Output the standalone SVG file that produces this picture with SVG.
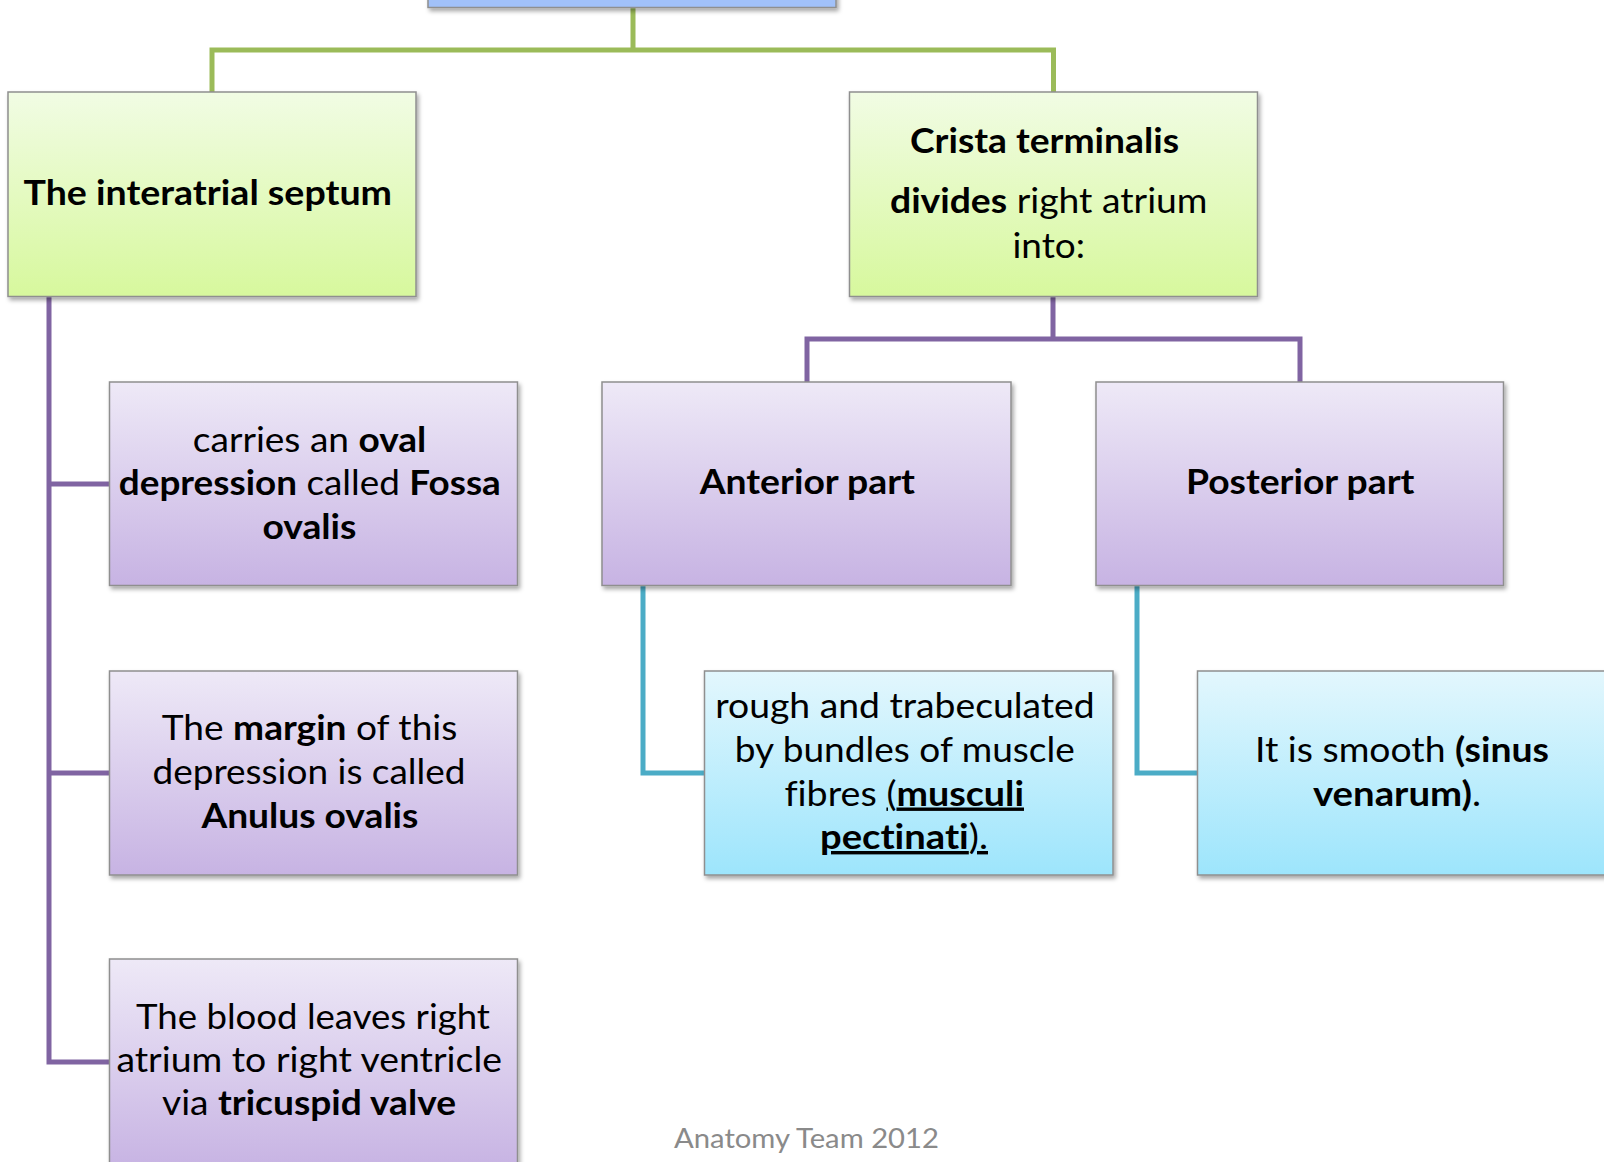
<svg xmlns="http://www.w3.org/2000/svg" width="1604" height="1162" viewBox="0 0 1604 1162">
<defs>
<linearGradient id="gGreen" x1="0" y1="0" x2="0" y2="1">
<stop offset="0" stop-color="#f1fce4"/><stop offset="1" stop-color="#d7f89d"/>
</linearGradient>
<linearGradient id="gPurple" x1="0" y1="0" x2="0" y2="1">
<stop offset="0" stop-color="#eee9f7"/><stop offset="1" stop-color="#c7b3e3"/>
</linearGradient>
<linearGradient id="gBlue" x1="0" y1="0" x2="0" y2="1">
<stop offset="0" stop-color="#e3f7fd"/><stop offset="1" stop-color="#9de5fc"/>
</linearGradient>
<filter id="sh" x="-5%" y="-5%" width="110%" height="115%">
<feDropShadow dx="2" dy="3" stdDeviation="2" flood-color="#000" flood-opacity="0.35"/>
</filter>
</defs>
<style>
.box{stroke:#8f8f8f;stroke-width:1.5;filter:url(#sh)}
.green{fill:url(#gGreen)}
.purple{fill:url(#gPurple)}
.blue{fill:url(#gBlue)}
.t{font-family:Lato,"Open Sans","DejaVu Sans",sans-serif;font-size:34px;fill:#000;font-variant-ligatures:none}
.b{font-weight:bold}
.u{text-decoration:underline}
.c{fill:none;stroke-width:5;stroke-linecap:square;stroke-linejoin:miter}
.cg{stroke:#9bbb59}
.cp{stroke:#8064a2}
.cb{stroke:#4bacc6}
.foot{font-family:Lato,"Open Sans","DejaVu Sans",sans-serif;font-size:26px;fill:#8a8a8a}
</style>
<rect width="1604" height="1162" fill="#ffffff"/>
<g id="connectors">
<path class="c cg" d="M633 8 V50 M212 92 V50 H1053.5 V92"/>
<path class="c cp" d="M49 297 V1062 H109 M49 484 H109 M49 773 H109"/>
<path class="c cp" d="M1053 297 V339 M807 382 V339 H1300 V382"/>
<path class="c cb" d="M643 586 V773 H704 M1137 586 V773 H1197"/>
</g>
<g id="top">
<rect class="box" x="428" y="-200" width="408" height="207.5" fill="#a1c1f9"/>
</g>
<g id="interatrial">
<rect class="box green" x="8" y="92" width="408" height="204.5"/>
<text class="t b" x="23.5" y="205" textLength="368.5" lengthAdjust="spacingAndGlyphs">The interatrial septum</text>
</g>
<g id="crista">
<rect class="box green" x="849.5" y="92" width="408" height="204.5"/>
<text class="t b" x="910" y="153" textLength="269" lengthAdjust="spacingAndGlyphs">Crista terminalis</text>
<text class="t" x="890" y="213" textLength="317.5" lengthAdjust="spacingAndGlyphs"><tspan class="b">divides</tspan> right atrium</text>
<text class="t" x="1012.5" y="258" textLength="72.5" lengthAdjust="spacingAndGlyphs">into:</text>
</g>
<g id="fossa">
<rect class="box purple" x="109.5" y="382" width="408" height="203.5"/>
<text class="t" x="192.8" y="452" textLength="233.5" lengthAdjust="spacingAndGlyphs">carries an <tspan class="b">oval</tspan></text>
<text class="t" x="118.8" y="495" textLength="382" lengthAdjust="spacingAndGlyphs"><tspan class="b">depression</tspan> called <tspan class="b">Fossa</tspan></text>
<text class="t b" x="262.4" y="538.5" textLength="94" lengthAdjust="spacingAndGlyphs">ovalis</text>
</g>
<g id="anulus">
<rect class="box purple" x="109.5" y="671" width="408" height="204"/>
<text class="t" x="161.8" y="740" textLength="295.5" lengthAdjust="spacingAndGlyphs">The <tspan class="b">margin</tspan> of this</text>
<text class="t" x="152.5" y="784" textLength="313" lengthAdjust="spacingAndGlyphs">depression is called</text>
<text class="t b" x="201.4" y="828" textLength="217" lengthAdjust="spacingAndGlyphs">Anulus ovalis</text>
</g>
<g id="tricuspid">
<rect class="box purple" x="109.5" y="959" width="408" height="210"/>
<text class="t" x="136" y="1028.5" textLength="354" lengthAdjust="spacingAndGlyphs">The blood leaves right</text>
<text class="t" x="116.4" y="1072" textLength="385.6" lengthAdjust="spacingAndGlyphs">atrium to right ventricle</text>
<text class="t" x="162" y="1115" textLength="294" lengthAdjust="spacingAndGlyphs">via <tspan class="b">tricuspid valve</tspan></text>
</g>
<g id="anterior">
<rect class="box purple" x="602" y="382" width="409" height="203.5"/>
<text class="t b" x="699.7" y="494" textLength="215.3" lengthAdjust="spacingAndGlyphs">Anterior part</text>
</g>
<g id="posterior">
<rect class="box purple" x="1096" y="382" width="407.5" height="203.5"/>
<text class="t b" x="1186" y="494" textLength="228.4" lengthAdjust="spacingAndGlyphs">Posterior part</text>
</g>
<g id="rough">
<rect class="box blue" x="704.5" y="671" width="408.5" height="204"/>
<text class="t" x="715.2" y="718" textLength="379.5" lengthAdjust="spacingAndGlyphs">rough and trabeculated</text>
<text class="t" x="734.8" y="761.5" textLength="340" lengthAdjust="spacingAndGlyphs">by bundles of muscle</text>
<text class="t" x="784.4" y="805.5" textLength="239.6" lengthAdjust="spacingAndGlyphs">fibres <tspan class="u">(<tspan class="b">musculi</tspan></tspan></text>
<text class="t u" x="820" y="849" textLength="168" lengthAdjust="spacingAndGlyphs"><tspan class="b">pectinati</tspan>).</text>
</g>
<g id="smooth">
<rect class="box blue" x="1197.5" y="671" width="420" height="204"/>
<text class="t" x="1255" y="761.7" textLength="294" lengthAdjust="spacingAndGlyphs">It is smooth <tspan class="b">(sinus</tspan></text>
<text class="t" x="1313" y="806" textLength="168" lengthAdjust="spacingAndGlyphs"><tspan class="b">venarum)</tspan>.</text>
</g>
<text class="foot" x="674" y="1148" textLength="265" lengthAdjust="spacingAndGlyphs">Anatomy Team 2012</text>
</svg>
